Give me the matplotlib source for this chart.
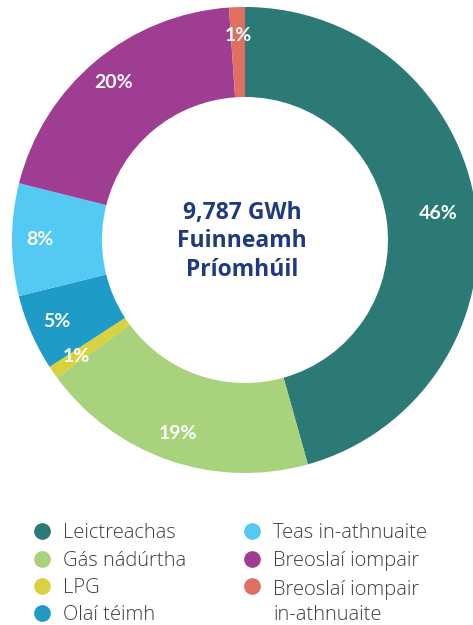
import matplotlib.pyplot as plt
from matplotlib.lines import Line2D

# Irish energy use breakdown (GWh share)
categories = ['Leictreachas', 'Gás nádúrtha', 'LPG', 'Olaí téimh',
              'Teas in-athnuaite', 'Breoslaí iompair',
              'Breoslaí iompair\nin-athnuaite']
shares = [45.7, 19.3, 0.9, 5.3, 7.8, 20.0, 1.1]
colors = ['#2b7a75', '#a8d27c', '#d8d23e', '#1f9bc8',
          '#53c9f3', '#9e3d92', '#df705f']
center_text = '9,787 GWh\nFuinneamh\nPríomhúil'

fig = plt.figure(figsize=(4.73, 6.25), dpi=100)
ax = fig.add_axes([0, 0, 1, 1])

wedges, _, pct_texts = ax.pie(
    shares, colors=colors, startangle=90, counterclock=False,
    center=(245, 385), radius=233, frame=True,
    wedgeprops=dict(width=90, linewidth=0),
    autopct=lambda p: f'{round(p)}%', pctdistance=0.88,
    textprops=dict(color='white', fontsize=14, fontweight='bold', family='Lato'))
ax.set_xlim(0, 473)
ax.set_ylim(0, 625)
ax.set_aspect('equal')
ax.axis('off')

# the big slice label sits a bit further in
x, y = pct_texts[0].get_position()
pct_texts[0].set_position((245 + (x - 245) * 0.95, 385 + (y - 385) * 0.95))

ax.text(242, 384, center_text, ha='center', va='center', fontsize=16.5,
        fontweight='bold', color='#1f3a80', family='Open Sans', linespacing=1.25)

# legend drawn by hand, two columns (first column 4 rows)
rows_y = [94, 66, 39, 12]
col_x = [42, 252]
for i, (lab, col) in enumerate(zip(categories, colors)):
    c = 0 if i < 4 else 1
    r = i if i < 4 else i - 4
    yy = rows_y[r]
    ax.add_line(Line2D([col_x[c]], [yy], marker='o', markersize=11,
                       color=col, linestyle='none'))
    extra = lab.count('\n') * 27
    ax.text(col_x[c] + 21, yy - 7 - extra, lab, ha='left', va='baseline',
            fontsize=14.5, color='#3d3d3d', family='Open Sans', fontweight='light',
            linespacing=1.34)

fig.savefig('out.png', dpi=100)
